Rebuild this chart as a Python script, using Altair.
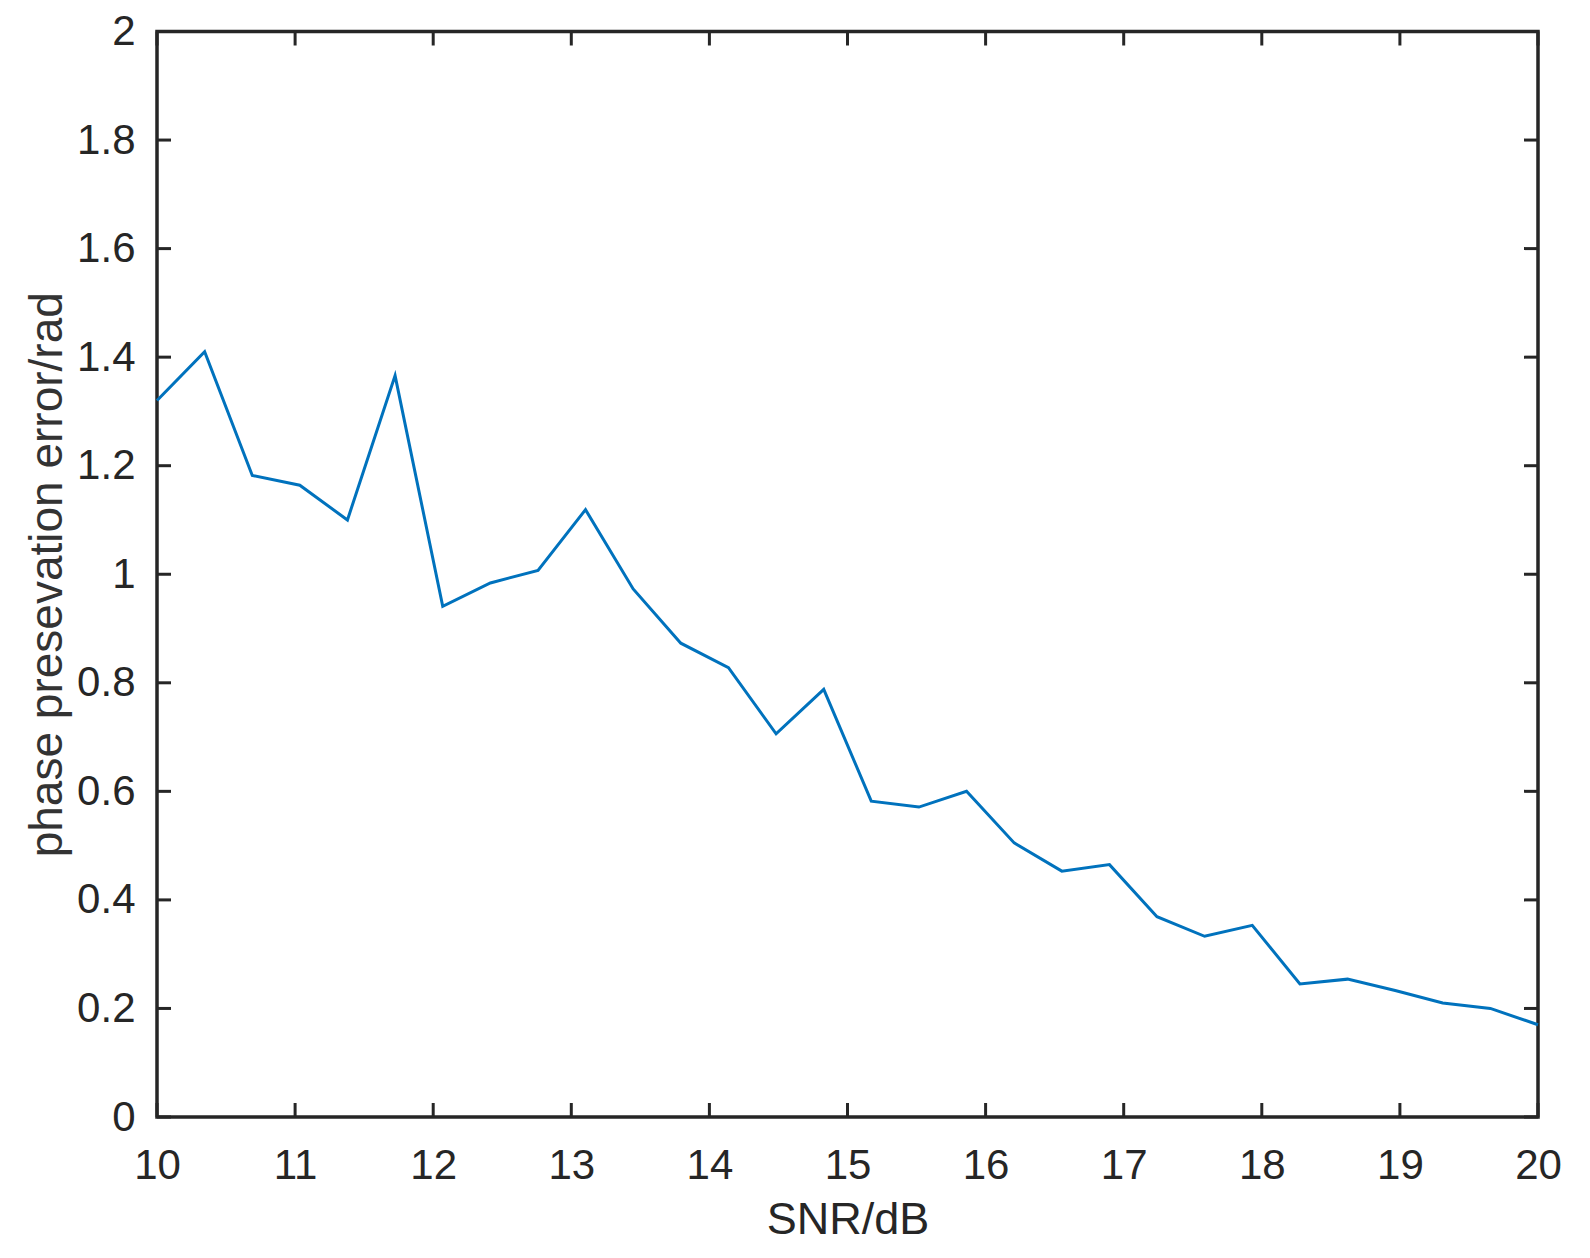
import altair as alt
import pandas as pd

# ---- data ----
snr = [10.0, 10.345, 10.690, 11.034, 11.379, 11.724, 12.069, 12.414, 12.759, 13.103,
       13.448, 13.793, 14.138, 14.483, 14.828, 15.172, 15.517, 15.862, 16.207, 16.552,
       16.897, 17.241, 17.586, 17.931, 18.276, 18.621, 18.966, 19.310, 19.655, 20.0]
err = [1.320, 1.410, 1.182, 1.164, 1.100, 1.366, 0.941, 0.984, 1.007, 1.119,
       0.973, 0.873, 0.828, 0.706, 0.788, 0.582, 0.571, 0.600, 0.505, 0.453,
       0.465, 0.369, 0.333, 0.353, 0.245, 0.254, 0.233, 0.210, 0.200, 0.170]
x_ticks = [10, 11, 12, 13, 14, 15, 16, 17, 18, 19, 20]
y_ticks = [0, 0.2, 0.4, 0.6, 0.8, 1, 1.2, 1.4, 1.6, 1.8, 2]
x_title = "SNR/dB"
y_title = "phase presevation error/rad"

# ---- layout ----
W, H = 1381, 1085.5
XMIN, XMAX, YMIN, YMAX = 10, 20, 0, 2
TICK_PX = 14
FONT = "Liberation Sans"
INK = "#262626"

dx = TICK_PX / W * (XMAX - XMIN)
dy = TICK_PX / H * (YMAX - YMIN)

line_df = pd.DataFrame({"snr": snr, "err": err})

rows = []
for t in x_ticks:
    rows.append({"snr": t, "snr2": t, "err": YMIN, "err2": YMIN + dy})
    rows.append({"snr": t, "snr2": t, "err": YMAX, "err2": YMAX - dy})
for t in y_ticks:
    rows.append({"snr": XMIN, "snr2": XMIN + dx, "err": t, "err2": t})
    rows.append({"snr": XMAX, "snr2": XMAX - dx, "err": t, "err2": t})
tick_df = pd.DataFrame(rows)

x_axis = alt.Axis(
    values=x_ticks, title=x_title, ticks=False, tickSize=0, domain=False, grid=False,
    labelFont=FONT, labelFontSize=42, labelColor=INK, labelPadding=61,
    labelBaseline="alphabetic", labelFlush=False, labelOverlap=False,
    titleFont=FONT, titleFontSize=45, titleColor=INK, titleFontWeight="normal",
    titleX=W / 2, titleY=116, titleBaseline="alphabetic", titleAlign="center",
)
y_axis = alt.Axis(
    values=y_ticks, title=y_title, format="~g", ticks=False, tickSize=0, domain=False,
    grid=False, labelFont=FONT, labelFontSize=42, labelColor=INK, labelPadding=22,
    labelAlign="right", labelBaseline="middle", labelFlush=False, labelOverlap=False,
    titleFont=FONT, titleFontSize=46, titleColor="#333333", titleFontWeight="normal",
    titleX=-96, titleY=H / 2, titleAngle=270, titleBaseline="alphabetic",
    titleAlign="center",
)
xs = alt.Scale(domain=[XMIN, XMAX], nice=False, zero=False)
ys = alt.Scale(domain=[YMIN, YMAX], nice=False, zero=False)

line = alt.Chart(line_df).mark_line(color="#0072BD", strokeWidth=3).encode(
    x=alt.X("snr:Q", scale=xs, axis=x_axis),
    y=alt.Y("err:Q", scale=ys, axis=y_axis),
)
ticks = alt.Chart(tick_df).mark_rule(color=INK, strokeWidth=3).encode(
    x=alt.X("snr:Q", scale=xs, axis=x_axis),
    x2="snr2:Q",
    y=alt.Y("err:Q", scale=ys, axis=y_axis),
    y2="err2:Q",
)

chart = (
    alt.layer(line, ticks)
    .properties(
        width=W, height=H,
        autosize=alt.AutoSizeParams(type="none"),
        padding={"left": 149, "top": 23.5, "right": 40, "bottom": 128},
        background="white",
    )
    .configure_view(stroke=INK, strokeWidth=3.5)
)

chart.save("out.html", embed_options={"renderer": "svg", "actions": False})
